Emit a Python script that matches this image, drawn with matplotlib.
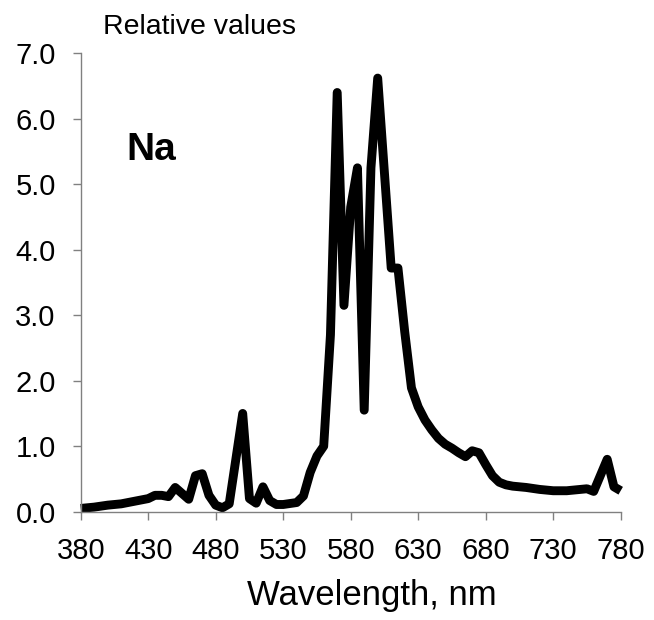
import matplotlib
matplotlib.use("Agg")
import matplotlib.pyplot as plt

plt.rcParams['font.family'] = ['Liberation Sans', 'DejaVu Sans']

# Emission spectrum of a high-pressure sodium lamp
wavelength = [380, 390, 400, 410, 420, 430, 435, 440, 445, 450, 455, 460,
              465, 470, 475, 480, 485, 490, 500, 505, 510, 515, 520, 525,
              530, 540, 545, 550, 555, 560, 565, 570, 575, 580, 585, 590,
              595, 600, 610, 615, 620, 625, 630, 635, 640, 645, 650, 655,
              660, 665, 670, 675, 680, 685, 690, 695, 700, 710, 720, 730,
              740, 750, 755, 760, 770, 775, 780]
relative = [0.05, 0.07, 0.10, 0.12, 0.16, 0.20, 0.25, 0.25, 0.23, 0.37, 0.28, 0.19,
            0.55, 0.58, 0.25, 0.10, 0.06, 0.12, 1.50, 0.20, 0.13, 0.38, 0.17, 0.11,
            0.11, 0.14, 0.24, 0.60, 0.85, 1.00, 2.70, 6.40, 3.15, 4.65, 5.25, 1.55,
            5.25, 6.62, 3.72, 3.72, 2.75, 1.89, 1.60, 1.40, 1.25, 1.12, 1.03, 0.97,
            0.90, 0.84, 0.93, 0.90, 0.72, 0.55, 0.45, 0.41, 0.39, 0.37, 0.34, 0.32,
            0.32, 0.34, 0.35, 0.31, 0.80, 0.38, 0.32]

x_ticks = list(range(380, 781, 50))
y_ticks = [0, 1, 2, 3, 4, 5, 6, 7]

W, H = 654, 620
fig = plt.figure(figsize=(W / 100, H / 100), dpi=100)
ax_left, ax_right, ax_top, ax_bottom = 80.7, 620.7, 53.2, 511.7
ax = fig.add_axes([ax_left / W, 1 - ax_bottom / H,
                   (ax_right - ax_left) / W, (ax_bottom - ax_top) / H])

ax.plot(wavelength, relative, color='black', lw=6.4,
        solid_joinstyle='round', solid_capstyle='butt', clip_on=False)

ax.set_xlim(380, 780)
ax.set_ylim(0, 7)
ax.set_xticks(x_ticks)
ax.set_xticklabels([str(v) for v in x_ticks])
ax.set_yticks(y_ticks)
ax.set_yticklabels([f"{v:.1f}" for v in y_ticks])

for side in ('top', 'right'):
    ax.spines[side].set_visible(False)
for side in ('left', 'bottom'):
    ax.spines[side].set_color('#808080')
    ax.spines[side].set_linewidth(1.0)

ax.tick_params(axis='both', direction='out', length=6, width=1.0,
               color='#808080', labelsize=21, pad=12, labelcolor='black')

ax.set_xlabel('Wavelength, nm', fontsize=25)
ax.xaxis.label.set_va('baseline')
ax.xaxis.set_label_coords((372 - ax_left) / (ax_right - ax_left),
                          (ax_bottom - 605) / (ax_bottom - ax_top))

ax.set_ylabel('Relative values', fontsize=20.5, rotation=0)
ax.yaxis.label.set_ha('left')
ax.yaxis.label.set_va('baseline')
ax.yaxis.set_label_coords((103 - ax_left) / (ax_right - ax_left),
                          (ax_bottom - 34) / (ax_bottom - ax_top))

fig.text(126 / W, 1 - 160 / H, 'Na', fontsize=28, fontweight='bold',
         ha='left', va='baseline')

fig.savefig('out.png', dpi=100)
